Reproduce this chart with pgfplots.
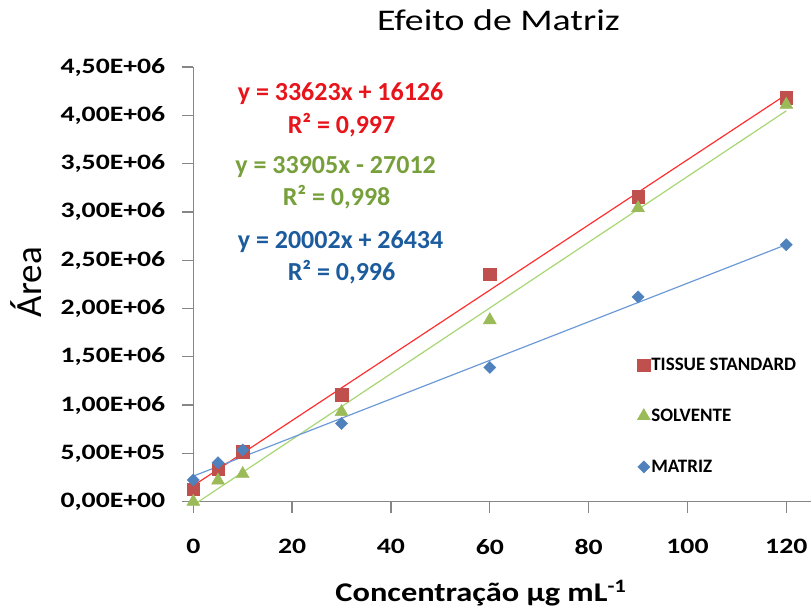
\documentclass[border=0pt]{standalone}
\usepackage{fontspec}
\setmainfont{Carlito}
\usepackage{pgfplots}
\usepackage{pgfplotstable}
\pgfplotsset{compat=1.18}

\definecolor{tsMark}{HTML}{C0504D}
\definecolor{svMark}{HTML}{9BBB59}
\definecolor{mzMark}{HTML}{4F81BD}
\definecolor{tsLine}{HTML}{FF3030}
\definecolor{svLine}{HTML}{A8D672}
\definecolor{mzLine}{HTML}{6C9AD6}
\definecolor{tsText}{HTML}{E8141B}
\definecolor{svText}{HTML}{77A03C}
\definecolor{mzText}{HTML}{1C5C9E}
\definecolor{axisGray}{HTML}{868686}

% concentration (ug/mL) and peak area for each calibration set
\pgfplotstableread{
x    ts       sv       mz
0    131000   0        225000
5    335000   220000   404000
10   518000   287000   535000
30   1110000  930000   810000
60   2355000  1880000  1390000
90   3160000  3040000  2120000
120  4180000  4110000  2660000
}\calib

\begin{document}
\begin{tikzpicture}[x=1pt,y=1pt]
\useasboundingbox (0,0) rectangle (811,610);
\begin{axis}[
  scale only axis,
  width=617.7pt, height=434.7pt,
  at={(193.3pt,108.3pt)}, anchor=south west,
  xmin=0, xmax=125, ymin=0, ymax=4500000,
  clip=false,
  axis lines*=left,
  axis line style={axisGray, line width=1.3pt},
  tick style={axisGray, line width=1.3pt},
  tick align=outside,
  major tick length=11pt,
  scaled y ticks=false,
  xtick={0,20,40,60,80,100,120},
  xticklabels={0,20,40,60,80,100,120},
  ytick={0,500000,1000000,1500000,2000000,2500000,3000000,3500000,4000000,4500000},
  yticklabels={{0,00E+00},{5,00E+05},{1,00E+06},{1,50E+06},{2,00E+06},{2,50E+06},{3,00E+06},{3,50E+06},{4,00E+06},{4,50E+06}},
  ticklabel style={font=\bfseries\fontsize{22}{22}\selectfont, text=black, xscale=1.26},
  xticklabel style={yshift=-23pt},
  yticklabel style={xshift=-10pt},
  title={Efeito de Matriz},
  title style={at={(rel axis cs:0.4941,1.0697)}, anchor=base, xscale=1.26,
    font=\fontsize{30}{30}\selectfont},
  xlabel={Concentração µg mL\textsuperscript{-1}},
  xlabel style={at={(rel axis cs:0.4658,-0.2307)}, anchor=base, xscale=1.2,
    font=\bfseries\fontsize{27}{27}\selectfont},
  ylabel={Área},
  ylabel style={at={(rel axis cs:-0.2708,0.505)}, anchor=center,
    font=\fontsize{37}{37}\selectfont},
  legend style={draw=none, fill=none, at={(axis cs:89.2,1.52e6)}, anchor=north west,
    font=\bfseries\fontsize{19}{19}\selectfont, row sep=35pt,
    nodes={inner sep=1pt}},
  legend cell align=left,
  legend image code/.code={\draw[#1] plot coordinates {(4pt,0pt)};},
]
\addplot[only marks, mark=square*, mark size=6.3pt, color=tsMark] table[x=x,y=ts] {\calib};
\addlegendentry{TISSUE STANDARD}
\addplot[only marks, mark=triangle*, mark size=7.5pt, color=svMark] table[x=x,y=sv] {\calib};
\addlegendentry{SOLVENTE}
\addplot[only marks, mark=square*, mark options={rotate=45}, mark size=4.3pt, color=mzMark] table[x=x,y=mz] {\calib};
\addlegendentry{MATRIZ}

% least-squares lines through each set
\addplot[forget plot, no marks, tsLine, line width=1.2pt] table[x=x, y={create col/linear regression={y=ts}}] {\calib};
\addplot[forget plot, no marks, svLine, line width=1.2pt] table[x=x, y={create col/linear regression={y=sv}}] {\calib};
\addplot[forget plot, no marks, mzLine, line width=1.2pt] table[x=x, y={create col/linear regression={y=mz}}] {\calib};

\begin{scope}[font=\bfseries\fontsize{26}{26}\selectfont]
\node[text=tsText] at (axis cs:29.8,4228000) {y = 33623x + 16126};
\node[text=tsText] at (axis cs:30.0,3900000) {R² = 0,997};
\node[text=svText] at (axis cs:28.8,3466000) {y = 33905x - 27012};
\node[text=svText] at (axis cs:29.0,3157000) {R² = 0,998};
\node[text=mzText] at (axis cs:29.8,2692000) {y = 20002x + 26434};
\node[text=mzText] at (axis cs:30.0,2381000) {R² = 0,996};
\end{scope}
\end{axis}
\end{tikzpicture}
\end{document}
